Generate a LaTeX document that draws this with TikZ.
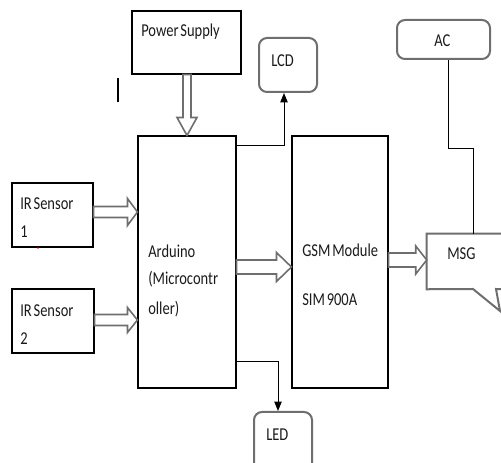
\documentclass[tikz,border=0pt]{standalone}
\usepackage{fontspec}
\setmainfont{Carlito}[FakeStretch=0.8,WordSpace=0.55]
\usetikzlibrary{calc,fit,arrows.meta}
\definecolor{edgegray}{HTML}{6E6E6E}
\definecolor{txtc}{HTML}{1A1A1A}
% horizontal hollow arrow: #1 start, #2 tip, #3 shaft half, #4 head half, #5 head length
\newcommand\hollowR[5]{%
  \draw[hollow] ($(#1)+(0,-#3)$) -- ($(#2)+(-#5,-#3)$) -- ($(#2)+(-#5,-#4)$) -- (#2)
    -- ($(#2)+(-#5,#4)$) -- ($(#2)+(-#5,#3)$) -- ($(#1)+(0,#3)$) -- cycle;}
% downward hollow arrow (y axis points down)
\newcommand\hollowD[5]{%
  \draw[hollow] ($(#1)+(-#3,0)$) -- ($(#2)+(-#3,-#5)$) -- ($(#2)+(-#4,-#5)$) -- (#2)
    -- ($(#2)+(#4,-#5)$) -- ($(#2)+(#3,-#5)$) -- ($(#1)+(#3,0)$) -- cycle;}
\begin{document}
\begin{tikzpicture}[x=0.75pt,y=-0.75pt,
  box/.style={draw=black,line width=0.8pt,inner sep=0pt},
  rbox/.style={draw=edgegray,line width=1.5pt,rounded corners=6pt,inner sep=0pt},
  lbl/.style={anchor=base west,inner sep=0pt,text=txtc,font=\fontsize{13.6}{16}\selectfont},
  hollow/.style={draw=edgegray,line width=1.2pt,fill=white,line join=miter},
  conn/.style={draw=black,line width=0.7pt},
  tip/.style={-{Triangle[length=7pt,width=5.5pt]}}]
\useasboundingbox (0,0) rectangle (501,463);
\clip (0,0) rectangle (501,463);

% boxes
\node[box,fit={(132,11)(241,74)}] (ps) {};
\node[rbox,fit={(259,38)(317,92)}] (lcd) {};
\node[rbox,fit={(397,20)(490,59)}] (ac) {};
\node[box,fit={(12,183)(93,247)}] (ir1) {};
\node[box,fit={(12,289)(94,353)}] (ir2) {};
\node[box,fit={(138,136)(236,388)}] (ard) {};
\node[box,fit={(292,136)(388,388)}] (gsm) {};
\node[rbox,fit={(254,412)(312,480)}] (led) {};
\node[inner sep=0pt,fit={(427,234)(512,289)}] (msg) {};
\draw[draw=edgegray,line width=1.5pt,line join=miter]
  (msg.north east) -- (msg.north west) -- (msg.south west) -- (473,289) -- (500,311) -- (496,289) -- (msg.south east);

% labels
\node[lbl] (pst) at (141,37) {Power Supply};
\node[lbl] (lcdt) at (271,67) {LCD};
\node[lbl] (act) at (434,47) {AC};
\node[lbl] (ir1a) at (20,210) {IR Sensor};
\node[lbl] (ir1b) at (20,238) {1};
\node[lbl] (ir2a) at (20,317) {IR Sensor};
\node[lbl] (ir2b) at (20,345) {2};
\node[lbl] (arda) at (148,258) {Arduino};
\node[lbl] (ardb) at (148,285) {(Microcontr};
\node[lbl] (ardc) at (148,315) {oller)};
\node[lbl] (gsma) at (302,257) {GSM Module};
\node[lbl] (gsmb) at (302,306) {SIM 900A};
\node[lbl] (msgt) at (447,260) {MSG};
\node[lbl] (ledt) at (266,441) {LED};

% stray marks
\draw[line width=1.5pt] (118,78) -- (118,102);
\fill[red] (38,248) circle (0.9);

% hollow block arrows
\coordinate (psA) at (ps.south -| 187,0);
\coordinate (psB) at (ard.north -| 187,0);
\hollowD{psA}{psB}{4}{10}{18}
\coordinate (i1A) at (ir1.east |- 0,212);
\coordinate (i1B) at (ard.west |- 0,212);
\hollowR{i1A}{i1B}{5.5}{13.5}{10}
\coordinate (i2A) at (ir2.east |- 0,320);
\coordinate (i2B) at (ard.west |- 0,320);
\hollowR{i2A}{i2B}{5.5}{12.5}{10}
\coordinate (agA) at (ard.east |- 0,267);
\coordinate (agB) at (gsm.west |- 0,267);
\hollowR{agA}{agB}{7}{14.5}{15}
\coordinate (gmA) at (gsm.east |- 0,260);
\coordinate (gmB) at (msg.west |- 0,260);
\hollowR{gmA}{gmB}{7}{14}{11}

% line connectors
\draw[conn,tip] (ard.east |- 0,145) -| ($(lcd.south)+(-4,0)$);
\draw[conn,tip] (ard.east |- 0,361) -| ($(led.north)+(-5,0)$);
\coordinate (acA) at ($(ac.south)+(4.5,0)$);
\coordinate (acB) at (msg.north -| 473,0);
\draw[conn] (acA) -- ++(0,88) -| (acB);
\end{tikzpicture}
\end{document}
